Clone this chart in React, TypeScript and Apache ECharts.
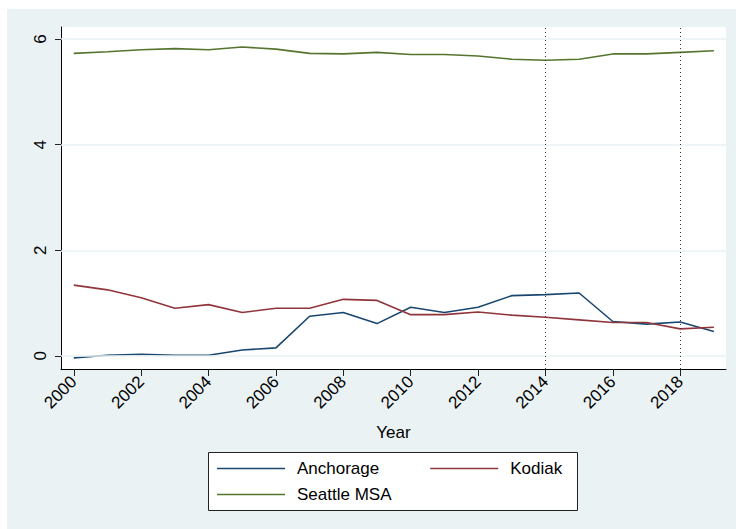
import React, { useEffect, useRef } from "react";
import * as echarts from "echarts";

const years = [2000, 2001, 2002, 2003, 2004, 2005, 2006, 2007, 2008, 2009, 2010, 2011, 2012, 2013, 2014, 2015, 2016, 2017, 2018, 2019];
const anchorage = [-0.04, 0.01, 0.03, 0.01, 0.01, 0.11, 0.15, 0.75, 0.82, 0.61, 0.92, 0.82, 0.92, 1.14, 1.16, 1.19, 0.65, 0.6, 0.64, 0.46];
const kodiak = [1.34, 1.25, 1.1, 0.9, 0.97, 0.82, 0.9, 0.9, 1.07, 1.05, 0.78, 0.78, 0.83, 0.77, 0.73, 0.68, 0.63, 0.63, 0.51, 0.54];
const seattle = [5.73, 5.76, 5.8, 5.82, 5.8, 5.85, 5.81, 5.73, 5.72, 5.75, 5.71, 5.71, 5.68, 5.62, 5.6, 5.62, 5.72, 5.72, 5.75, 5.78];
const xTickLabels = [2000, 2002, 2004, 2006, 2008, 2010, 2012, 2014, 2016, 2018];
const yTickLabels = [0, 2, 4, 6];
const refYears = [2014, 2018];
const seriesNames = ["Anchorage", "Kodiak", "Seattle MSA"];

const FONT = "'Liberation Sans', Arial, sans-serif";
const BG = "#eaf2f3";

export default function App() {
  const ref = useRef<HTMLDivElement>(null);
  useEffect(() => {
    document.body.style.margin = "0";
    const chart = echarts.init(ref.current!, undefined, { renderer: "svg" });
    const pairs = (vals: number[]) => years.map((y, i) => [y, vals[i]]);
    const lineSeries = (name: string, vals: number[], color: string) => ({
      name,
      type: "line",
      data: pairs(vals),
      symbol: "none",
      showSymbol: false,
      z: 3,
      lineStyle: { color, width: 1.6 },
      itemStyle: { color },
    });
    chart.setOption({
      animation: false,
      backgroundColor: "#ffffff",
      textStyle: { fontFamily: FONT },
      graphic: [
        { type: "rect", z: -100, shape: { x: 7, y: 9, width: 729, height: 520 }, style: { fill: BG } },
        { type: "rect", z: 0, shape: { x: 208.5, y: 452.5, width: 369, height: 58 }, style: { fill: "#ffffff", stroke: "#222", lineWidth: 1 } },
      ],
      grid: { left: 61, top: 27, right: 10, bottom: 160, show: true, backgroundColor: "#ffffff", borderWidth: 0 },
      xAxis: {
        type: "value",
        min: 1999.62,
        max: 2019.36,
        name: "Year",
        nameLocation: "middle",
        nameGap: 55,
        nameTextStyle: { fontSize: 17, color: "#000", fontFamily: FONT },
        axisLine: { show: true, onZero: false, lineStyle: { color: "#000", width: 1 } },
        axisTick: { show: true, customValues: xTickLabels, length: 7, lineStyle: { color: "#222" } },
        axisLabel: { customValues: xTickLabels, rotate: 45, fontSize: 17, color: "#000", margin: 10, fontFamily: FONT, formatter: (v: number) => String(v) },
        splitLine: { show: false },
      },
      yAxis: {
        type: "value",
        min: -0.25,
        max: 6.23,
        axisLine: { show: true, lineStyle: { color: "#000", width: 1 } },
        axisTick: { show: true, customValues: yTickLabels, length: 6, lineStyle: { color: "#222" } },
        axisLabel: { customValues: yTickLabels, rotate: 90, fontSize: 17, color: "#000", margin: 12, fontFamily: FONT },
        splitLine: { show: false },
      },
      legend: [
        {
          data: [seriesNames[0], seriesNames[1]],
          left: 217,
          top: 460,
          orient: "horizontal",
          padding: 0,
          itemWidth: 68,
          itemHeight: 14,
          itemGap: 51,
          icon: "path://M0,0 L68,0 L68,1.6 L0,1.6 Z",
          textStyle: { fontSize: 17, color: "#000", fontFamily: FONT, padding: [0, 0, 0, 7] },
          selectedMode: false,
        },
        {
          data: [seriesNames[2]],
          left: 217,
          top: 486,
          orient: "horizontal",
          padding: 0,
          itemWidth: 68,
          itemHeight: 14,
          icon: "path://M0,0 L68,0 L68,1.6 L0,1.6 Z",
          textStyle: { fontSize: 17, color: "#000", fontFamily: FONT, padding: [0, 0, 0, 7] },
          selectedMode: false,
        },
      ],
      series: [
        {
          name: "grid",
          type: "line",
          data: [],
          z: 1,
          silent: true,
          markLine: {
            silent: true,
            symbol: "none",
            label: { show: false },
            lineStyle: { color: BG, type: "solid", width: 1.5 },
            data: yTickLabels.map((v) => ({ yAxis: v })),
          },
        },
        {
          name: "ref",
          type: "line",
          data: [],
          z: 2,
          silent: true,
          markLine: {
            silent: true,
            symbol: "none",
            label: { show: false },
            lineStyle: { color: "#333", type: [1, 3], width: 1 },
            data: refYears.map((v) => ({ xAxis: v })),
          },
        },
        lineSeries(seriesNames[0], anchorage, "#1a476f"),
        lineSeries(seriesNames[1], kodiak, "#90353b"),
        lineSeries(seriesNames[2], seattle, "#55752f"),
      ],
    });
    return () => chart.dispose();
  }, []);
  return <div ref={ref} style={{ position: "absolute", left: 0, top: 0, width: 736, height: 529 }} />;
}
